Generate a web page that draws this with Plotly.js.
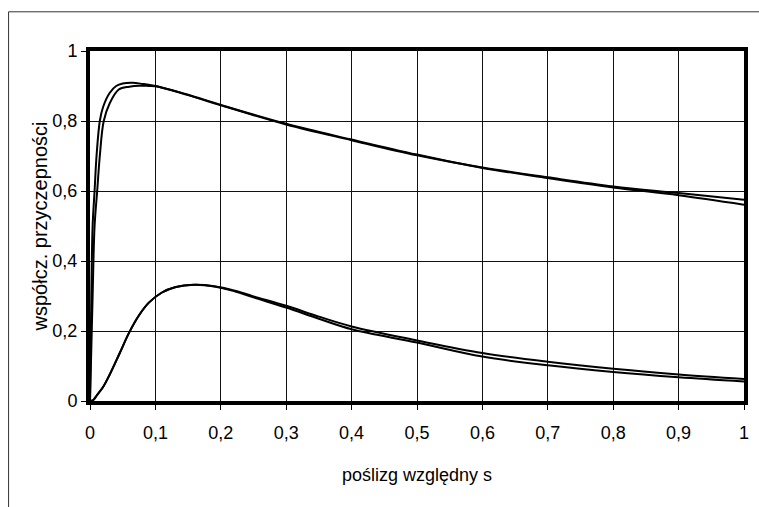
<!DOCTYPE html>
<html>
<head>
<meta charset="utf-8">
<script src="https://cdn.plot.ly/plotly-3.0.1.min.js"></script>
<style>html,body{margin:0;padding:0;background:#fff;}#chart{width:759px;height:507px;}</style>
</head>
<body>
<div id="chart"></div>
<script>
// Upper pair (high-adhesion surface)
const xA = [0, 0.002, 0.004, 0.007, 0.01, 0.015, 0.02, 0.03, 0.04, 0.05, 0.065, 0.08, 0.1, 0.15, 0.2, 0.3, 0.4, 0.5, 0.6, 0.7, 0.8, 0.9, 1];
const yA = [0, 0.3, 0.5, 0.6, 0.7, 0.8, 0.84, 0.88, 0.9, 0.907, 0.909, 0.906, 0.9, 0.875, 0.846, 0.792, 0.747, 0.704, 0.666, 0.637, 0.61, 0.588, 0.561];
const xB = [0, 0.004, 0.007, 0.011, 0.015, 0.021, 0.03, 0.044, 0.06, 0.075, 0.09, 0.1, 0.15, 0.2, 0.3, 0.4, 0.5, 0.6, 0.7, 0.8, 0.9, 1];
const yB = [0, 0.3, 0.5, 0.6, 0.7, 0.8, 0.85, 0.89, 0.898, 0.901, 0.9, 0.899, 0.874, 0.845, 0.79, 0.745, 0.702, 0.667, 0.639, 0.613, 0.594, 0.575];
// Lower pair (low-adhesion surface)
const xC = [0, 0.005, 0.01, 0.02, 0.03, 0.045, 0.06, 0.075, 0.09, 0.11, 0.13, 0.16, 0.19, 0.22, 0.25, 0.3, 0.35, 0.4, 0.5, 0.6, 0.7, 0.8, 0.9, 1];
const yC = [0, 0.003, 0.015, 0.04, 0.075, 0.135, 0.196, 0.245, 0.281, 0.31, 0.325, 0.332, 0.328, 0.316, 0.299, 0.272, 0.241, 0.213, 0.173, 0.137, 0.112, 0.092, 0.076, 0.063];
const yD = [0, 0.003, 0.015, 0.04, 0.075, 0.135, 0.196, 0.245, 0.281, 0.31, 0.325, 0.332, 0.327, 0.314, 0.296, 0.267, 0.235, 0.205, 0.167, 0.127, 0.102, 0.083, 0.068, 0.056];

const xTicks = [0, 0.1, 0.2, 0.3, 0.4, 0.5, 0.6, 0.7, 0.8, 0.9, 1];
const yTicks = [0, 0.2, 0.4, 0.6, 0.8, 1];
const xTitle = 'poślizg względny s';
const yTitle = 'współcz. przyczepności';

const line = {color: '#000', width: 2, shape: 'spline', smoothing: 1};
const traces = [
  {x: xA, y: yA, mode: 'lines', line: line, hoverinfo: 'skip'},
  {x: xB, y: yB, mode: 'lines', line: line, hoverinfo: 'skip'},
  {x: xC, y: yC, mode: 'lines', line: line, hoverinfo: 'skip'},
  {x: xC, y: yD, mode: 'lines', line: line, hoverinfo: 'skip'}
];

const font = {family: 'Liberation Sans, Arial, sans-serif', color: '#000'};
const layout = {
  width: 759, height: 507,
  margin: {l: 90, r: 15, t: 51, b: 106, pad: 0},
  paper_bgcolor: '#fff', plot_bgcolor: '#fff',
  showlegend: false,
  separators: ', ',
  font: font,
  xaxis: {
    range: [0, 1], tickvals: xTicks, ticks: 'outside', ticklen: 5, tickcolor: '#000', tickwidth: 1,
    ticklabelstandoff: 7,
    showline: true, linewidth: 4, linecolor: '#000', mirror: true,
    showgrid: true, gridcolor: '#111', gridwidth: 1, zeroline: false,
    tickfont: {size: 18, family: font.family, color: '#000'},
    title: {text: xTitle, font: {size: 18, family: font.family, color: '#000'}, standoff: 28},
    fixedrange: true
  },
  yaxis: {
    range: [0, 1], tickvals: yTicks, ticks: 'outside', ticklen: 5, tickcolor: '#000', tickwidth: 1,
    showline: true, linewidth: 4, linecolor: '#000', mirror: true,
    showgrid: true, gridcolor: '#111', gridwidth: 1, zeroline: false,
    tickfont: {size: 18, family: font.family, color: '#000'},
    title: {text: yTitle, font: {size: 20, family: font.family, color: '#000'}, standoff: 0},
    fixedrange: true
  },
  shapes: [
    {type: 'line', xref: 'paper', yref: 'paper', x0: -0.1245, x1: 1.05, y0: 1.112, y1: 1.112, line: {color: '#333', width: 1}},
    {type: 'line', xref: 'paper', yref: 'paper', x0: -0.1245, x1: -0.1245, y0: 1.112, y1: -0.32, line: {color: '#333', width: 1}}
  ]
};

Plotly.newPlot('chart', traces, layout, {staticPlot: true, displayModeBar: false});
</script>
</body>
</html>
